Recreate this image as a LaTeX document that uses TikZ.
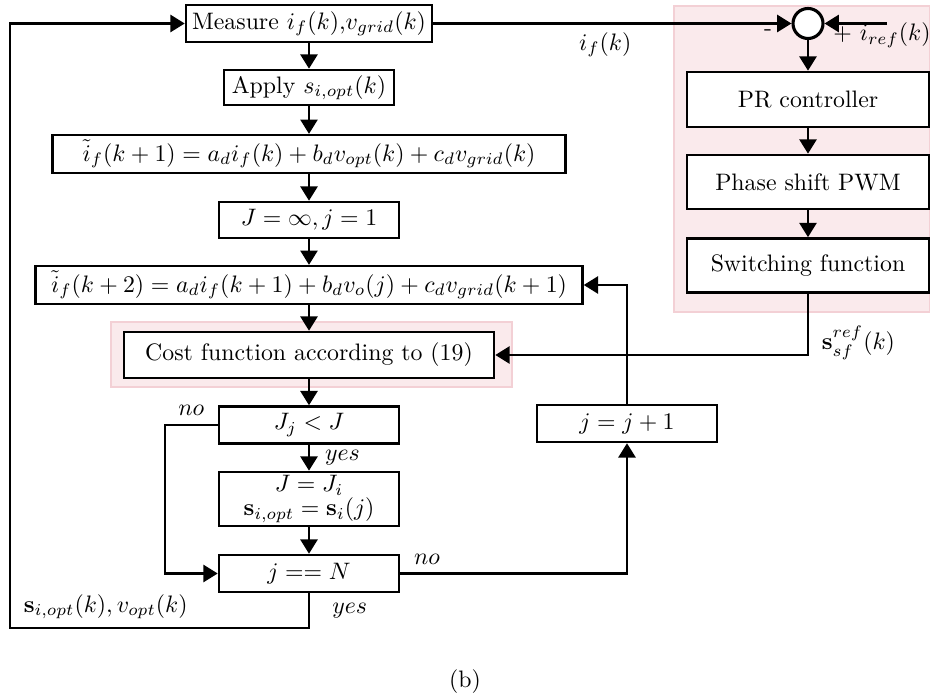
\documentclass[tikz,border=0pt]{standalone}
\usepackage{amsmath,amssymb}
\usepackage{tikz}
\usetikzlibrary{arrows.meta}
\definecolor{hlfill}{RGB}{250,234,236}
\definecolor{hldraw}{RGB}{243,208,213}

\begin{document}
\begin{tikzpicture}[
    x=0.42pt,
    y=-0.42pt,
    >={Triangle[length=6pt,width=7.2pt]},
    line width=0.9pt,
    stepbox/.style={draw, line width=1.1pt, fill=white, inner sep=2pt, minimum width=75.6pt, minimum height=15.5pt, align=center},
    ctrlbox/.style={draw, line width=1.1pt, fill=white, minimum width=101.6pt, minimum height=23.1pt, align=center},
    sumnode/.style={draw, circle, line width=1.3pt, fill=white, minimum size=12.6pt, inner sep=0pt},
    hilite/.style={draw=hldraw, fill=hlfill, line width=0.6pt}
]
\useasboundingbox (0,0) rectangle (930,698);
\draw[hilite] (674,6) rectangle (930,312);
\draw[hilite] (111,322) rectangle (512,387);

\node[stepbox, minimum width=103.3pt] (meas) at (309,23.5) {Measure $i_f(k)$,$v_{grid}(k)$};
\node[stepbox, minimum width=71.4pt, minimum height=14.7pt] (apply) at (309,87.5) {Apply $s_{i,opt}(k)$};
\node[stepbox, minimum width=215.5pt, minimum height=15.1pt] (pred1) at (309,154) {$\tilde{i}_f(k+1) = a_d i_f(k) + b_d v_{opt}(k) + c_d v_{grid}(k)$};
\node[stepbox, minimum height=15.1pt] (init) at (309,220) {$J = \infty, j = 1$};
\node[stepbox, minimum width=229.7pt, minimum height=15.1pt] (pred2) at (309,285) {$\tilde{i}_f(k+2) = a_d i_f(k+1) + b_d v_o(j) + c_d v_{grid}(k+1)$};
\node[stepbox, minimum width=155.4pt, minimum height=19.3pt] (cost) at (309,355) {Cost function according to (19)};
\node[stepbox] (cmp) at (309,425) {$J_j < J$};
\node[stepbox, minimum height=22.7pt, inner sep=1.5pt] (upd) at (309,499) {$J = J_i$\\[-2pt] $\mathbf{s}_{i,opt} = \mathbf{s}_i(j)$};
\node[stepbox] (chk) at (309,573.5) {$j == N$};
\node[stepbox] (incr) at (627,423.5) {$j = j+1$};

\node[sumnode] (sum) at (808,23.5) {};
\node[ctrlbox] (pr) at (808,99.5) {PR controller};
\node[ctrlbox, minimum height=22.7pt] (pwm) at (808,182) {Phase shift PWM};
\node[ctrlbox, minimum height=22.7pt] (sw) at (808,265.5) {Switching function};
\node (minus) at (768,33) {-};
\node (refin) at (882,35) {$+\ i_{ref}(k)$};
\coordinate (refsrc) at (887,23.5);
\coordinate (loopL) at (10,628);

\draw[->] (meas) -- (apply);
\draw[->] (apply) -- (pred1);
\draw[->] (pred1) -- (init);
\draw[->] (init) -- (pred2);
\draw[->] (pred2) -- (cost);
\draw[->] (cost) -- (cmp);
\draw[->] (cmp) -- node[right, xshift=3pt] {$yes$} (upd);
\draw[->] (upd) -- (chk);
\draw[->] (cmp.west) -- node[above] {$no$} ++(-53,0) |- (chk.west);
\draw[->] (chk.east) node[above right, xshift=2pt] {$no$} -| (incr.south);
\draw[->] (incr.north) |- (pred2.east);
\draw[->] (chk.south) |- node[pos=0.25, right, xshift=6pt] {$yes$} node[pos=0.84, above] {$\mathbf{s}_{i,opt}(k), v_{opt}(k)$} (loopL) |- (meas.west);

\draw[->] (meas.east) -- node[pos=0.48, below] {$i_f(k)$} (sum.west);
\draw[->] (refsrc) -- (sum.east);
\draw[->] (sum) -- (pr);
\draw[->] (pr) -- (pwm);
\draw[->] (pwm) -- (sw);
\draw[->] (sw.south) |- node[pos=0.4, right, xshift=2pt] {$\mathbf{s}_{sf}^{ref}(k)$} (cost.east);

\node (cap) at (465,682) {(b)};
\end{tikzpicture}
\end{document}
